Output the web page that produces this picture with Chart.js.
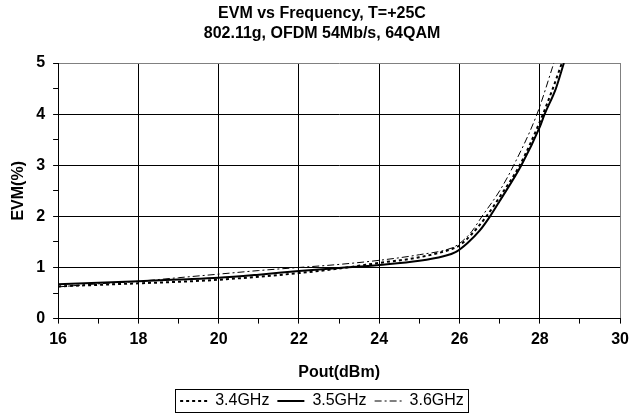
<!DOCTYPE html>
<html>
<head>
<meta charset="utf-8">
<script src="https://cdn.jsdelivr.net/npm/chart.js@4.4.1/dist/chart.umd.min.js"></script>
<style>
  html, body { margin: 0; padding: 0; background: #fff; }
  #wrap { width: 635px; height: 420px; }
</style>
</head>
<body>
<div id="wrap"><canvas id="evmChart"></canvas></div>
<script>
const titleLines = ["EVM vs Frequency, T=+25C", "802.11g, OFDM 54Mb/s, 64QAM"];
const seriesNames = ["3.4GHz", "3.5GHz", "3.6GHz"];

// Pout (dBm) / EVM (%)
const pout34 = [16, 17, 18, 19, 20, 21, 22, 23, 24, 25, 25.8, 26, 26.3, 26.67, 27, 27.5, 28, 28.3, 28.55];
const evm34  = [0.63, 0.66, 0.69, 0.72, 0.76, 0.82, 0.89, 0.98, 1.09, 1.2, 1.36, 1.43, 1.65, 2.0, 2.38, 3.0, 3.85, 4.45, 5.0];

const pout35 = [16, 17, 18, 19, 20, 21, 22, 23, 24, 25, 25.6, 25.9, 26.2, 26.5, 26.76, 27, 27.54, 28, 28.12, 28.4, 28.6];
const evm35  = [0.67, 0.70, 0.73, 0.765, 0.80, 0.86, 0.93, 0.99, 1.05, 1.13, 1.22, 1.30, 1.48, 1.72, 2.0, 2.3, 3.0, 3.75, 4.0, 4.5, 5.0];

const pout36 = [16, 17, 18, 19, 20, 21, 22, 23, 24, 25, 25.8, 26, 26.3, 26.56, 27, 27.35, 27.93, 28.35];
const evm36  = [0.62, 0.68, 0.73, 0.80, 0.87, 0.94, 1.0, 1.06, 1.14, 1.25, 1.38, 1.47, 1.7, 2.0, 2.5, 3.0, 4.0, 5.0];

const xLabels = [16, 18, 20, 22, 24, 26, 28, 30];
const yLabels = [0, 1, 2, 3, 4, 5];

const toPoints = (xs, ys) => xs.map((x, i) => ({ x: x, y: ys[i] }));

Chart.defaults.font.family = "'Liberation Sans', Arial, sans-serif";
Chart.defaults.color = "#000";

// frame around the legend, like the original
const legendFrame = {
  id: "legendFrame",
  afterDraw(chart) {
    const boxes = chart.legend && chart.legend.legendHitBoxes;
    if (!boxes || !boxes.length) return;
    let l = Infinity, r = -Infinity, t = Infinity, b = -Infinity;
    boxes.forEach(h => {
      l = Math.min(l, h.left); r = Math.max(r, h.left + h.width);
      t = Math.min(t, h.top); b = Math.max(b, h.top + h.height);
    });
    const ctx = chart.ctx;
    ctx.save();
    ctx.strokeStyle = "#000";
    ctx.lineWidth = 1;
    ctx.setLineDash([]);
    ctx.strokeRect(Math.round(l - 5) + 0.5, Math.round(t - 4) + 0.5, Math.round(r - l + 9), Math.round(b - t + 7));
    ctx.restore();
  }
};

new Chart(document.getElementById("evmChart"), {
  type: "line",
  data: {
    datasets: [
      {
        label: seriesNames[0],
        data: toPoints(pout34, evm34),
        borderColor: "#000",
        borderWidth: 2,
        borderDash: [3, 3],
        pointRadius: 0,
        cubicInterpolationMode: "monotone"
      },
      {
        label: seriesNames[1],
        data: toPoints(pout35, evm35),
        borderColor: "#000",
        borderWidth: 2,
        pointRadius: 0,
        cubicInterpolationMode: "monotone"
      },
      {
        label: seriesNames[2],
        data: toPoints(pout36, evm36),
        borderColor: "#000",
        borderWidth: 1,
        borderDash: [7, 3, 2, 3],
        pointRadius: 0,
        cubicInterpolationMode: "monotone"
      }
    ]
  },
  options: {
    responsive: true,
    maintainAspectRatio: false,
    animation: false,
    layout: { padding: { left: 9, right: 0, top: 4, bottom: 1 } },
    plugins: {
      title: {
        display: true,
        text: titleLines,
        color: "#000",
        font: { size: 16, weight: "bold", lineHeight: 1.25 },
        padding: { top: 0, bottom: 19 }
      },
      legend: {
        position: "bottom",
        labels: {
          usePointStyle: true,
          pointStyle: "line",
          pointStyleWidth: 27,
          color: "#000",
          font: { size: 16 },
          padding: 8,
          // point-style legend items lose the dash, so put it back
          generateLabels: chart => {
            const items = Chart.defaults.plugins.legend.labels.generateLabels(chart);
            items.forEach(it => {
              const ds = chart.data.datasets[it.datasetIndex];
              it.lineDash = ds.borderDash || [];
              it.lineWidth = ds.borderWidth;
              it.strokeStyle = "#000";
            });
            return items;
          }
        }
      },
      tooltip: { enabled: false }
    },
    scales: {
      x: {
        type: "linear",
        min: 16,
        max: 30,
        title: {
          display: true,
          text: "Pout(dBm)",
          color: "#000",
          font: { size: 16, weight: "bold" },
          padding: { top: 8, bottom: 3 }
        },
        ticks: {
          stepSize: 1,
          autoSkip: false,
          maxRotation: 0,
          color: "#000",
          font: { size: 16, weight: "bold" },
          padding: 6,
          callback: v => xLabels.includes(v) ? String(v) : ""
        },
        grid: {
          color: ctx => {
            const v = ctx.tick && ctx.tick.value;
            if (v === 30) return "#808080";
            return xLabels.includes(v) ? "#000" : "rgba(0,0,0,0)";
          },
          tickColor: "#000",
          tickLength: 5,
          lineWidth: 1
        },
        border: { color: "#000", width: 1 }
      },
      y: {
        min: 0,
        max: 5,
        title: {
          display: true,
          text: "EVM(%)",
          color: "#000",
          font: { size: 16, weight: "bold" },
          padding: { top: 0, bottom: 0 }
        },
        ticks: {
          stepSize: 0.5,
          color: "#000",
          font: { size: 16, weight: "bold" },
          padding: 8,
          callback: v => yLabels.includes(v) ? String(v) : ""
        },
        grid: {
          color: ctx => {
            const v = ctx.tick && ctx.tick.value;
            if (v === 5) return "#808080";
            return yLabels.includes(v) ? "#000" : "rgba(0,0,0,0)";
          },
          tickColor: "#000",
          tickLength: 5,
          lineWidth: 1
        },
        border: { color: "#000", width: 1 }
      }
    }
  },
  plugins: [legendFrame]
});
</script>
</body>
</html>
